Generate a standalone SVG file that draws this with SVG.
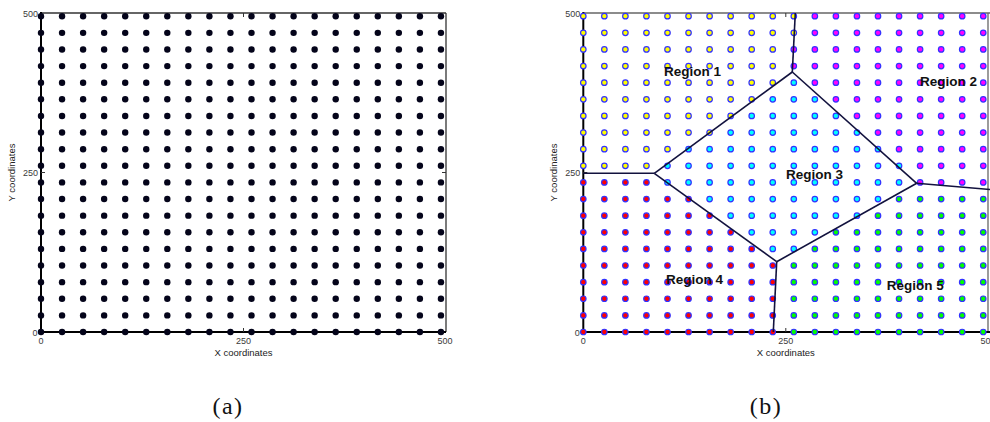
<svg xmlns="http://www.w3.org/2000/svg" xmlns:xlink="http://www.w3.org/1999/xlink" width="990" height="422" viewBox="0 0 990 422">
<style>
.tick{font-family:"Liberation Sans",Arial,sans-serif;font-size:9px;fill:#3a3a3a}
.atitle{font-family:"Liberation Sans",Arial,sans-serif;font-size:9.5px;fill:#222}
.cap{font-family:"Liberation Serif","Times New Roman",serif;font-size:24px;fill:#111;letter-spacing:1.5px}
.rlab{font-family:"Liberation Sans",Arial,sans-serif;font-size:13.5px;font-weight:bold;fill:#111}
.pts circle{r:2.75px;stroke:#3232ff;stroke-width:1.2}
.Y{fill:#ffff00}.M{fill:#ff00ff}.C{fill:#00ffff}.R{fill:#ff0000}.G{fill:#00ff00}
.ax{stroke:#000;stroke-width:2;fill:none}
.ax2{stroke:#333;stroke-width:1.3;fill:none}
.ax3{stroke:#666;stroke-width:1.3;fill:none}
.tk{stroke:#333;stroke-width:1}
</style>
<defs>
<g id="brow" fill="#04041a">
<circle r="3.2" cx="41"/><circle r="3.2" cx="62.05"/><circle r="3.2" cx="83.1"/><circle r="3.2" cx="104.15"/><circle r="3.2" cx="125.2"/><circle r="3.2" cx="146.25"/><circle r="3.2" cx="167.3"/><circle r="3.2" cx="188.35"/><circle r="3.2" cx="209.4"/><circle r="3.2" cx="230.45"/><circle r="3.2" cx="251.5"/><circle r="3.2" cx="272.55"/><circle r="3.2" cx="293.6"/><circle r="3.2" cx="314.65"/><circle r="3.2" cx="335.7"/><circle r="3.2" cx="356.75"/><circle r="3.2" cx="377.8"/><circle r="3.2" cx="398.85"/><circle r="3.2" cx="419.9"/><circle r="3.2" cx="440.95"/>
</g>
</defs>
<rect width="990" height="422" fill="#fff"/>

<!-- Plot (a) -->
<g id="plot-a">
<line class="ax2" x1="41" y1="13" x2="446" y2="13"/>
<line class="ax2" x1="446" y1="13" x2="446" y2="332"/>
<line class="ax" x1="41" y1="332" x2="446" y2="332"/>
<line class="ax" x1="41" y1="12" x2="41" y2="333"/>
<line class="tk" x1="243.5" y1="332" x2="243.5" y2="328"/>
<line class="tk" x1="243.5" y1="13" x2="243.5" y2="17"/>
<line class="tk" x1="41" y1="172.5" x2="45" y2="172.5"/>
<line class="tk" x1="446" y1="172.5" x2="442" y2="172.5"/>
<g id="grid-a">
<use href="#brow" y="16.22"/><use href="#brow" y="32.84"/><use href="#brow" y="49.46"/><use href="#brow" y="66.08"/><use href="#brow" y="82.7"/><use href="#brow" y="99.32"/><use href="#brow" y="115.94"/><use href="#brow" y="132.56"/><use href="#brow" y="149.18"/><use href="#brow" y="165.8"/><use href="#brow" y="182.42"/><use href="#brow" y="199.04"/><use href="#brow" y="215.66"/><use href="#brow" y="232.28"/><use href="#brow" y="248.9"/><use href="#brow" y="265.52"/><use href="#brow" y="282.14"/><use href="#brow" y="298.76"/><use href="#brow" y="315.38"/><use href="#brow" y="332"/>
</g>
<text class="tick" x="38" y="16.5" text-anchor="end">500</text>
<text class="tick" x="38" y="176" text-anchor="end">250</text>
<text class="tick" x="37.5" y="335.5" text-anchor="end">0</text>
<text class="tick" x="41" y="343.5" text-anchor="middle">0</text>
<text class="tick" x="243.5" y="343.5" text-anchor="middle">250</text>
<text class="tick" x="445" y="343.5" text-anchor="middle">500</text>
<text class="atitle" x="243.5" y="355.5" text-anchor="middle">X coordinates</text>
<text class="atitle" transform="translate(15,172.5) rotate(-90)" text-anchor="middle">Y coordinates</text>
<text class="cap" x="228" y="413.5" text-anchor="middle">(a)</text>
</g>

<!-- Plot (b) -->
<g id="plot-b">
<line class="ax3" x1="583.3" y1="13" x2="990" y2="13"/>
<line class="ax3" x1="988" y1="13" x2="988" y2="332"/>
<line class="ax" x1="583.3" y1="332" x2="990" y2="332"/>
<line class="ax" x1="583.3" y1="12" x2="583.3" y2="333"/>
<line class="tk" x1="785.8" y1="332" x2="785.8" y2="328"/>
<line class="tk" x1="785.8" y1="13" x2="785.8" y2="17"/>
<line class="tk" x1="583.3" y1="172.5" x2="587.3" y2="172.5"/>
<text class="tick" x="580.3" y="16.5" text-anchor="end">500</text>
<text class="tick" x="580.3" y="176" text-anchor="end">250</text>
<text class="tick" x="579.8" y="335.5" text-anchor="end">0</text>
<text class="tick" x="583.3" y="343.5" text-anchor="middle">0</text>
<text class="tick" x="785.8" y="343.5" text-anchor="middle">250</text>
<text class="tick" x="980.5" y="343.5">50</text>
<text class="atitle" x="785.8" y="355.5" text-anchor="middle">X coordinates</text>
<text class="atitle" transform="translate(557.3,172.5) rotate(-90)" text-anchor="middle">Y coordinates</text>
<text class="cap" x="766" y="413.5" text-anchor="middle">(b)</text>
</g>

<g id="region1" class="pts Y">
<g transform="translate(0,16.22)"><circle cx="583.3"/><circle cx="604.35"/><circle cx="625.4"/><circle cx="646.45"/><circle cx="667.5"/><circle cx="688.55"/><circle cx="709.6"/><circle cx="730.65"/><circle cx="751.7"/><circle cx="772.75"/><circle cx="793.8"/></g>
<g transform="translate(0,32.84)"><circle cx="583.3"/><circle cx="604.35"/><circle cx="625.4"/><circle cx="646.45"/><circle cx="667.5"/><circle cx="688.55"/><circle cx="709.6"/><circle cx="730.65"/><circle cx="751.7"/><circle cx="772.75"/><circle cx="793.8"/></g>
<g transform="translate(0,49.46)"><circle cx="583.3"/><circle cx="604.35"/><circle cx="625.4"/><circle cx="646.45"/><circle cx="667.5"/><circle cx="688.55"/><circle cx="709.6"/><circle cx="730.65"/><circle cx="751.7"/><circle cx="772.75"/></g>
<g transform="translate(0,66.08)"><circle cx="583.3"/><circle cx="604.35"/><circle cx="625.4"/><circle cx="646.45"/><circle cx="667.5"/><circle cx="688.55"/><circle cx="709.6"/><circle cx="730.65"/><circle cx="751.7"/><circle cx="772.75"/></g>
<g transform="translate(0,82.7)"><circle cx="583.3"/><circle cx="604.35"/><circle cx="625.4"/><circle cx="646.45"/><circle cx="667.5"/><circle cx="688.55"/><circle cx="709.6"/><circle cx="730.65"/><circle cx="751.7"/><circle cx="772.75"/></g>
<g transform="translate(0,99.32)"><circle cx="583.3"/><circle cx="604.35"/><circle cx="625.4"/><circle cx="646.45"/><circle cx="667.5"/><circle cx="688.55"/><circle cx="709.6"/><circle cx="730.65"/><circle cx="751.7"/></g>
<g transform="translate(0,115.94)"><circle cx="583.3"/><circle cx="604.35"/><circle cx="625.4"/><circle cx="646.45"/><circle cx="667.5"/><circle cx="688.55"/><circle cx="709.6"/><circle cx="730.65"/></g>
<g transform="translate(0,132.56)"><circle cx="583.3"/><circle cx="604.35"/><circle cx="625.4"/><circle cx="646.45"/><circle cx="667.5"/><circle cx="688.55"/><circle cx="709.6"/></g>
<g transform="translate(0,149.18)"><circle cx="583.3"/><circle cx="604.35"/><circle cx="625.4"/><circle cx="646.45"/><circle cx="667.5"/></g>
<g transform="translate(0,165.8)"><circle cx="583.3"/><circle cx="604.35"/><circle cx="625.4"/><circle cx="646.45"/></g>
</g>

<g id="region2" class="pts M">
<g transform="translate(0,16.22)"><circle cx="814.85"/><circle cx="835.9"/><circle cx="856.95"/><circle cx="878"/><circle cx="899.05"/><circle cx="920.1"/><circle cx="941.15"/><circle cx="962.2"/><circle cx="983.25"/></g>
<g transform="translate(0,32.84)"><circle cx="814.85"/><circle cx="835.9"/><circle cx="856.95"/><circle cx="878"/><circle cx="899.05"/><circle cx="920.1"/><circle cx="941.15"/><circle cx="962.2"/><circle cx="983.25"/></g>
<g transform="translate(0,49.46)"><circle cx="793.8"/><circle cx="814.85"/><circle cx="835.9"/><circle cx="856.95"/><circle cx="878"/><circle cx="899.05"/><circle cx="920.1"/><circle cx="941.15"/><circle cx="962.2"/><circle cx="983.25"/></g>
<g transform="translate(0,66.08)"><circle cx="793.8"/><circle cx="814.85"/><circle cx="835.9"/><circle cx="856.95"/><circle cx="878"/><circle cx="899.05"/><circle cx="920.1"/><circle cx="941.15"/><circle cx="962.2"/><circle cx="983.25"/></g>
<g transform="translate(0,82.7)"><circle cx="814.85"/><circle cx="835.9"/><circle cx="856.95"/><circle cx="878"/><circle cx="899.05"/><circle cx="920.1"/><circle cx="941.15"/><circle cx="962.2"/><circle cx="983.25"/></g>
<g transform="translate(0,99.32)"><circle cx="835.9"/><circle cx="856.95"/><circle cx="878"/><circle cx="899.05"/><circle cx="920.1"/><circle cx="941.15"/><circle cx="962.2"/><circle cx="983.25"/></g>
<g transform="translate(0,115.94)"><circle cx="856.95"/><circle cx="878"/><circle cx="899.05"/><circle cx="920.1"/><circle cx="941.15"/><circle cx="962.2"/><circle cx="983.25"/></g>
<g transform="translate(0,132.56)"><circle cx="878"/><circle cx="899.05"/><circle cx="920.1"/><circle cx="941.15"/><circle cx="962.2"/><circle cx="983.25"/></g>
<g transform="translate(0,149.18)"><circle cx="899.05"/><circle cx="920.1"/><circle cx="941.15"/><circle cx="962.2"/><circle cx="983.25"/></g>
<g transform="translate(0,165.8)"><circle cx="920.1"/><circle cx="941.15"/><circle cx="962.2"/><circle cx="983.25"/></g>
<g transform="translate(0,182.42)"><circle cx="920.1"/><circle cx="941.15"/><circle cx="962.2"/><circle cx="983.25"/></g>
</g>

<g id="region3" class="pts C">
<g transform="translate(0,82.7)"><circle cx="793.8"/></g>
<g transform="translate(0,99.32)"><circle cx="772.75"/><circle cx="793.8"/><circle cx="814.85"/></g>
<g transform="translate(0,115.94)"><circle cx="751.7"/><circle cx="772.75"/><circle cx="793.8"/><circle cx="814.85"/><circle cx="835.9"/></g>
<g transform="translate(0,132.56)"><circle cx="730.65"/><circle cx="751.7"/><circle cx="772.75"/><circle cx="793.8"/><circle cx="814.85"/><circle cx="835.9"/><circle cx="856.95"/></g>
<g transform="translate(0,149.18)"><circle cx="688.55"/><circle cx="709.6"/><circle cx="730.65"/><circle cx="751.7"/><circle cx="772.75"/><circle cx="793.8"/><circle cx="814.85"/><circle cx="835.9"/><circle cx="856.95"/><circle cx="878"/></g>
<g transform="translate(0,165.8)"><circle cx="667.5"/><circle cx="688.55"/><circle cx="709.6"/><circle cx="730.65"/><circle cx="751.7"/><circle cx="772.75"/><circle cx="793.8"/><circle cx="814.85"/><circle cx="835.9"/><circle cx="856.95"/><circle cx="878"/><circle cx="899.05"/></g>
<g transform="translate(0,182.42)"><circle cx="667.5"/><circle cx="688.55"/><circle cx="709.6"/><circle cx="730.65"/><circle cx="751.7"/><circle cx="772.75"/><circle cx="793.8"/><circle cx="814.85"/><circle cx="835.9"/><circle cx="856.95"/><circle cx="878"/><circle cx="899.05"/></g>
<g transform="translate(0,199.04)"><circle cx="709.6"/><circle cx="730.65"/><circle cx="751.7"/><circle cx="772.75"/><circle cx="793.8"/><circle cx="814.85"/><circle cx="835.9"/><circle cx="856.95"/><circle cx="878"/></g>
<g transform="translate(0,215.66)"><circle cx="730.65"/><circle cx="751.7"/><circle cx="772.75"/><circle cx="793.8"/><circle cx="814.85"/><circle cx="835.9"/><circle cx="856.95"/></g>
<g transform="translate(0,232.28)"><circle cx="751.7"/><circle cx="772.75"/><circle cx="793.8"/><circle cx="814.85"/></g>
<g transform="translate(0,248.9)"><circle cx="772.75"/><circle cx="793.8"/></g>
</g>

<g id="region4" class="pts R">
<g transform="translate(0,182.42)"><circle cx="583.3"/><circle cx="604.35"/><circle cx="625.4"/><circle cx="646.45"/></g>
<g transform="translate(0,199.04)"><circle cx="583.3"/><circle cx="604.35"/><circle cx="625.4"/><circle cx="646.45"/><circle cx="667.5"/><circle cx="688.55"/></g>
<g transform="translate(0,215.66)"><circle cx="583.3"/><circle cx="604.35"/><circle cx="625.4"/><circle cx="646.45"/><circle cx="667.5"/><circle cx="688.55"/><circle cx="709.6"/></g>
<g transform="translate(0,232.28)"><circle cx="583.3"/><circle cx="604.35"/><circle cx="625.4"/><circle cx="646.45"/><circle cx="667.5"/><circle cx="688.55"/><circle cx="709.6"/><circle cx="730.65"/></g>
<g transform="translate(0,248.9)"><circle cx="583.3"/><circle cx="604.35"/><circle cx="625.4"/><circle cx="646.45"/><circle cx="667.5"/><circle cx="688.55"/><circle cx="709.6"/><circle cx="730.65"/><circle cx="751.7"/></g>
<g transform="translate(0,265.52)"><circle cx="583.3"/><circle cx="604.35"/><circle cx="625.4"/><circle cx="646.45"/><circle cx="667.5"/><circle cx="688.55"/><circle cx="709.6"/><circle cx="730.65"/><circle cx="751.7"/><circle cx="772.75"/></g>
<g transform="translate(0,282.14)"><circle cx="583.3"/><circle cx="604.35"/><circle cx="625.4"/><circle cx="646.45"/><circle cx="667.5"/><circle cx="688.55"/><circle cx="709.6"/><circle cx="730.65"/><circle cx="751.7"/><circle cx="772.75"/></g>
<g transform="translate(0,298.76)"><circle cx="583.3"/><circle cx="604.35"/><circle cx="625.4"/><circle cx="646.45"/><circle cx="667.5"/><circle cx="688.55"/><circle cx="709.6"/><circle cx="730.65"/><circle cx="751.7"/><circle cx="772.75"/></g>
<g transform="translate(0,315.38)"><circle cx="583.3"/><circle cx="604.35"/><circle cx="625.4"/><circle cx="646.45"/><circle cx="667.5"/><circle cx="688.55"/><circle cx="709.6"/><circle cx="730.65"/><circle cx="751.7"/><circle cx="772.75"/></g>
<g transform="translate(0,332)"><circle cx="583.3"/><circle cx="604.35"/><circle cx="625.4"/><circle cx="646.45"/><circle cx="667.5"/><circle cx="688.55"/><circle cx="709.6"/><circle cx="730.65"/><circle cx="751.7"/><circle cx="772.75"/></g>
</g>

<g id="region5" class="pts G">
<g transform="translate(0,199.04)"><circle cx="899.05"/><circle cx="920.1"/><circle cx="941.15"/><circle cx="962.2"/><circle cx="983.25"/></g>
<g transform="translate(0,215.66)"><circle cx="878"/><circle cx="899.05"/><circle cx="920.1"/><circle cx="941.15"/><circle cx="962.2"/><circle cx="983.25"/></g>
<g transform="translate(0,232.28)"><circle cx="835.9"/><circle cx="856.95"/><circle cx="878"/><circle cx="899.05"/><circle cx="920.1"/><circle cx="941.15"/><circle cx="962.2"/><circle cx="983.25"/></g>
<g transform="translate(0,248.9)"><circle cx="814.85"/><circle cx="835.9"/><circle cx="856.95"/><circle cx="878"/><circle cx="899.05"/><circle cx="920.1"/><circle cx="941.15"/><circle cx="962.2"/><circle cx="983.25"/></g>
<g transform="translate(0,265.52)"><circle cx="793.8"/><circle cx="814.85"/><circle cx="835.9"/><circle cx="856.95"/><circle cx="878"/><circle cx="899.05"/><circle cx="920.1"/><circle cx="941.15"/><circle cx="962.2"/><circle cx="983.25"/></g>
<g transform="translate(0,282.14)"><circle cx="793.8"/><circle cx="814.85"/><circle cx="835.9"/><circle cx="856.95"/><circle cx="878"/><circle cx="899.05"/><circle cx="920.1"/><circle cx="941.15"/><circle cx="962.2"/><circle cx="983.25"/></g>
<g transform="translate(0,298.76)"><circle cx="793.8"/><circle cx="814.85"/><circle cx="835.9"/><circle cx="856.95"/><circle cx="878"/><circle cx="899.05"/><circle cx="920.1"/><circle cx="941.15"/><circle cx="962.2"/><circle cx="983.25"/></g>
<g transform="translate(0,315.38)"><circle cx="793.8"/><circle cx="814.85"/><circle cx="835.9"/><circle cx="856.95"/><circle cx="878"/><circle cx="899.05"/><circle cx="920.1"/><circle cx="941.15"/><circle cx="962.2"/><circle cx="983.25"/></g>
<g transform="translate(0,332)"><circle cx="793.8"/><circle cx="814.85"/><circle cx="835.9"/><circle cx="856.95"/><circle cx="878"/><circle cx="899.05"/><circle cx="920.1"/><circle cx="941.15"/><circle cx="962.2"/><circle cx="983.25"/></g>
</g>

<g id="connectors" stroke="#12123e" stroke-width="1.6" fill="none" stroke-linejoin="round">
<line x1="583.3" y1="173.3" x2="654.3" y2="173.3"/>
<line x1="654.3" y1="173.3" x2="792.3" y2="72"/>
<line x1="792.3" y1="72" x2="795.3" y2="13"/>
<line x1="792.3" y1="72" x2="916.7" y2="183.3"/>
<line x1="916.7" y1="183.3" x2="990" y2="189.5"/>
<line x1="916.7" y1="183.3" x2="776.7" y2="261.7"/>
<line x1="776.7" y1="261.7" x2="773.3" y2="332"/>
<line x1="654.3" y1="173.3" x2="776.7" y2="261.7"/>
</g>

<g id="labels">
<text class="rlab" x="664" y="75.5">Region 1</text>
<text class="rlab" x="920" y="86">Region 2</text>
<text class="rlab" x="786" y="178.5">Region 3</text>
<text class="rlab" x="666" y="283.5">Region 4</text>
<text class="rlab" x="886.7" y="289.5">Region 5</text>
</g>
</svg>
